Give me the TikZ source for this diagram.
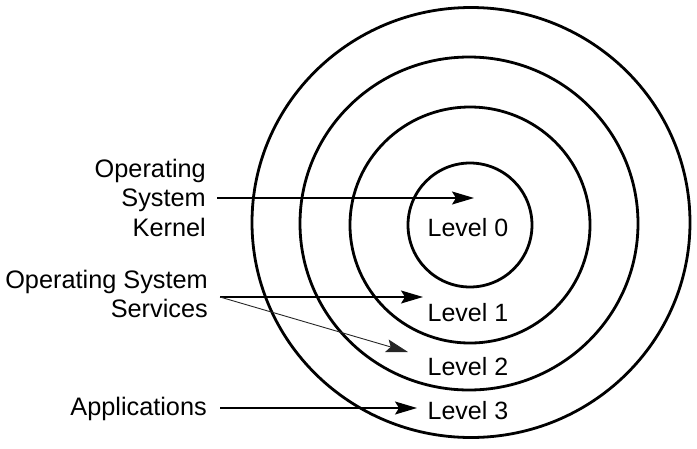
\documentclass[tikz,border=0pt]{standalone}
\usepackage{fontspec}
\setmainfont{Liberation Sans}
\usetikzlibrary{arrows.meta}
\begin{document}
\begin{tikzpicture}[x=1pt,y=-1pt,
  ring/.style={draw=black,line width=2.8pt},
  lbl/.style={inner sep=0pt,align=right,anchor=east,font=\fontsize{25.3}{29.5}\selectfont},
  lev/.style={inner sep=0pt,font=\fontsize{25}{29}\selectfont},
  arr/.style={draw=black,line width=1.3pt,-{Stealth[length=22pt,width=13pt,inset=4pt]}}]
\useasboundingbox (0,0) rectangle (697,448);
% rings
\draw[ring] (471,222.5) ellipse [x radius=219,y radius=215];
\draw[ring] (469,223.5) ellipse [x radius=169,y radius=166.5];
\draw[ring] (470,225) ellipse [x radius=120,y radius=118];
\draw[ring] (470,225) ellipse [x radius=62,y radius=62];
% level labels
\node[lev] (l0) at (468,228) {Level 0};
\node[lev] (l1) at (468,313) {Level 1};
\node[lev] (l2) at (468,367) {Level 2};
\node[lev] (l3) at (468,411) {Level 3};
% left labels
\node[lbl] (kern) at (206,197.5) {Operating\\System\\Kernel};
\node[lbl] (serv) at (208,294) {Operating System\\Services};
\node[lbl] (app) at (207,409) {Applications};
% arrow tips
\coordinate (t0) at (474,198);
\coordinate (t1) at (423,297);
\coordinate (t2) at (408,352);
\coordinate (t3) at (417,408);
\coordinate (s0) at (217,198);
\coordinate (s1) at (220,297);
\coordinate (s3) at (220,408);
\draw[arr] (s0) -- (t0);
\draw[arr] (s1) -- (t1);
\draw[arr,line width=0.9pt,draw=black!85] (s1) -- (t2);
\draw[arr] (s3) -- (t3);
\end{tikzpicture}
\end{document}
